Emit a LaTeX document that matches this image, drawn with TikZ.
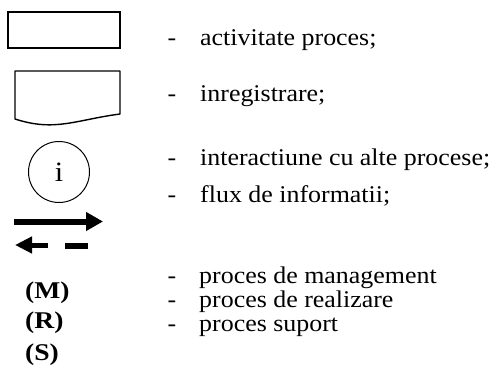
\documentclass[tikz,border=0pt]{standalone}
\usepackage{fontspec}
\setmainfont{Liberation Serif}[FakeStretch=1.08]
\newfontfamily\codefont{Liberation Serif}[FakeStretch=1.15]
\usetikzlibrary{arrows.meta}
\begin{document}
\begin{tikzpicture}[x=1pt,y=-1pt,
  lbl/.style={anchor=base west,inner sep=0pt,font=\fontsize{24}{28}\selectfont},
  dsh/.style={anchor=base,inner sep=0pt,font=\fontsize{24}{28}\selectfont},
  code/.style={anchor=base west,inner sep=0pt,font=\codefont\fontsize{24}{28}\selectfont\bfseries},
  shp/.style={draw,line width=1.4pt},
  flow/.style={line width=6pt}]
\useasboundingbox (0,0) rectangle (500,367);
% activity rectangle
\node[shp,rectangle,minimum width=112pt,minimum height=36pt,inner sep=0pt] (act) at (64,30) {};
% record (document) shape
\draw[shp,line join=round] (15,71) -- (120,71) -- (120,114) .. controls (75,120) and (55,132) .. (15,119) -- cycle;
% interaction circle
\node[draw,circle,line width=1pt,minimum size=61pt,inner sep=0pt,font=\fontsize{28}{30}\selectfont] (int) at (59,172) {i};
% information flow arrows
\coordinate (f1s) at (14,221.5);
\coordinate (f1e) at (103,221.5);
\draw[flow,-{Triangle[length=17pt,width=18pt]}] (f1s) -- (f1e);
\coordinate (f2s) at (48,245);
\coordinate (f2e) at (15,245);
\draw[line width=5pt,-{Triangle[length=17pt,width=16pt]}] (f2s) -- (f2e);
\coordinate (d1) at (65,246);
\coordinate (d2) at (88,246);
\draw[line width=5.5pt] (d1) -- (d2);
% codes
\node[code] (m) at (25,298) {(M)};
\node[code] (r) at (25,328) {(R)};
\node[code] (s) at (25,360) {(S)};
% dashes
\node[dsh] (h1) at (172,45) {-};
\node[dsh] (h2) at (172,101) {-};
\node[dsh] (h3) at (172,165) {-};
\node[dsh] (h4) at (172,202) {-};
\node[dsh] (h5) at (172,283) {-};
\node[dsh] (h6) at (172,307) {-};
\node[dsh] (h7) at (172,331) {-};
% labels
\node[lbl] (t1) at (200,45) {activitate proces;};
\node[lbl] (t2) at (200,101) {inregistrare;};
\node[lbl] (t3) at (200,165) {interactiune cu alte procese;};
\node[lbl] (t4) at (200,202) {flux de informatii;};
\node[lbl] (t5) at (199,283) {proces de management};
\node[lbl] (t6) at (199,307) {proces de realizare};
\node[lbl] (t7) at (199,331) {proces suport};
\end{tikzpicture}
\end{document}
